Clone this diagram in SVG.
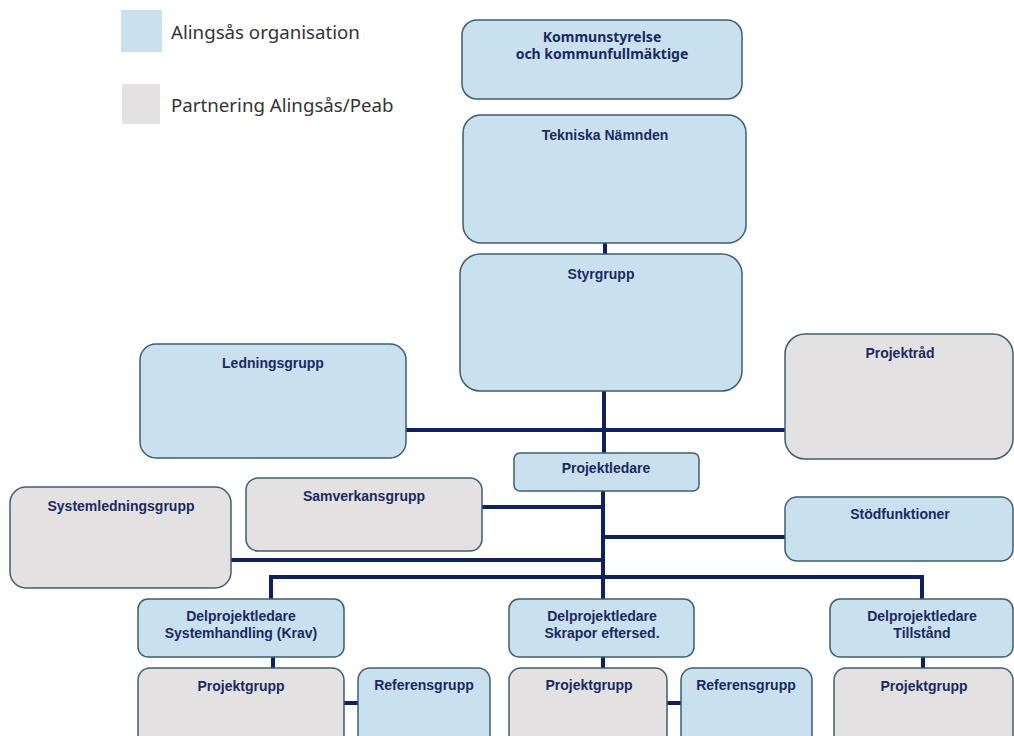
<svg xmlns="http://www.w3.org/2000/svg" width="1014" height="736" viewBox="0 0 1014 736">
<style>
.b{fill:#c9e1ee;stroke:#3f5d6e;stroke-width:1.5}
.g{fill:#e3e1e2;stroke:#3f5d6e;stroke-width:1.5}
.t{font-family:"Liberation Sans",Arial,sans-serif;font-weight:bold;font-size:14px;fill:#1b2a5e;text-anchor:middle}
.k{font-family:"Noto Sans","Open Sans",sans-serif;font-weight:bold;font-size:14px;fill:#1b2a5e;text-anchor:middle}
.l{font-family:"Noto Sans","Open Sans",sans-serif;font-size:18.7px;fill:#333}
.c{stroke:#0d2060;stroke-width:4;fill:none}
</style>
<rect width="1014" height="736" fill="#fff"/>
<g id="legend">
<rect x="121" y="10" width="41" height="42" fill="#c9e1ee"/>
<text class="l" x="171" y="39">Alingsås organisation</text>
<rect x="122" y="84" width="38" height="40" fill="#e3e1e2"/>
<text class="l" x="171" y="112">Partnering Alingsås/Peab</text>
</g>
<g id="connectors">
<path class="c" d="M605 243V254"/>
<path class="c" d="M604 391V454"/>
<path class="c" d="M406 430H785"/>
<path class="c" d="M603 491V577"/>
<path class="c" d="M482 507H603"/>
<path class="c" d="M231 560H603"/>
<path class="c" d="M603 537H785"/>
<path class="c" d="M271 599V577H922V599"/>
<path class="c" d="M603 577V599"/>
<path class="c" d="M273 657V668"/>
<path class="c" d="M603 657V668"/>
<path class="c" d="M923 657V668"/>
<path class="c" d="M344 703H358"/>
<path class="c" d="M667 703H681"/>
</g>
<g id="kommunstyrelse">
<rect class="b" x="462" y="20" width="280" height="79" rx="15"/>
<text class="k" x="602" y="42">Kommunstyrelse</text>
<text class="k" x="602" y="59">och kommunfullmäktige</text>
</g>
<g id="tekniska">
<rect class="b" x="463" y="115" width="283" height="128" rx="18"/>
<text class="t" x="605" y="140">Tekniska Nämnden</text>
</g>
<g id="styrgrupp">
<rect class="b" x="460" y="254" width="282" height="137" rx="20"/>
<text class="t" x="601" y="279">Styrgrupp</text>
</g>
<g id="ledningsgrupp">
<rect class="b" x="140" y="344" width="266" height="114" rx="16"/>
<text class="t" x="273" y="368">Ledningsgrupp</text>
</g>
<g id="projektrad">
<rect class="g" x="785" y="334" width="228" height="125" rx="20"/>
<text class="t" x="900" y="358">Projektråd</text>
</g>
<g id="projektledare">
<rect class="b" x="514" y="453" width="185" height="38" rx="6"/>
<text class="t" x="606" y="473">Projektledare</text>
</g>
<g id="samverkansgrupp">
<rect class="g" x="246" y="478" width="236" height="73" rx="12"/>
<text class="t" x="364" y="501">Samverkansgrupp</text>
</g>
<g id="systemledningsgrupp">
<rect class="g" x="10" y="487" width="221" height="101" rx="16"/>
<text class="t" x="121" y="511">Systemledningsgrupp</text>
</g>
<g id="stodfunktioner">
<rect class="b" x="785" y="497" width="228" height="64" rx="12"/>
<text class="t" x="900" y="519">Stödfunktioner</text>
</g>
<g id="delprojektledare1">
<rect class="b" x="138" y="599" width="206" height="58" rx="10"/>
<text class="t" x="241" y="621">Delprojektledare</text>
<text class="t" x="241" y="638">Systemhandling (Krav)</text>
</g>
<g id="delprojektledare2">
<rect class="b" x="509" y="599" width="185" height="58" rx="10"/>
<text class="t" x="602" y="621">Delprojektledare</text>
<text class="t" x="602" y="638">Skrapor eftersed.</text>
</g>
<g id="delprojektledare3">
<rect class="b" x="830" y="599" width="183" height="58" rx="10"/>
<text class="t" x="922" y="621">Delprojektledare</text>
<text class="t" x="922" y="638">Tillstånd</text>
</g>
<g id="projektgrupp1">
<rect class="g" x="138" y="668" width="206" height="90" rx="12"/>
<text class="t" x="241" y="691">Projektgrupp</text>
</g>
<g id="referensgrupp1">
<rect class="b" x="358" y="668" width="132" height="90" rx="12"/>
<text class="t" x="424" y="690">Referensgrupp</text>
</g>
<g id="projektgrupp2">
<rect class="g" x="509" y="668" width="158" height="90" rx="12"/>
<text class="t" x="589" y="690">Projektgrupp</text>
</g>
<g id="referensgrupp2">
<rect class="b" x="681" y="668" width="131" height="90" rx="12"/>
<text class="t" x="746" y="690">Referensgrupp</text>
</g>
<g id="projektgrupp3">
<rect class="g" x="834" y="668" width="179" height="90" rx="12"/>
<text class="t" x="924" y="691">Projektgrupp</text>
</g>
</svg>
